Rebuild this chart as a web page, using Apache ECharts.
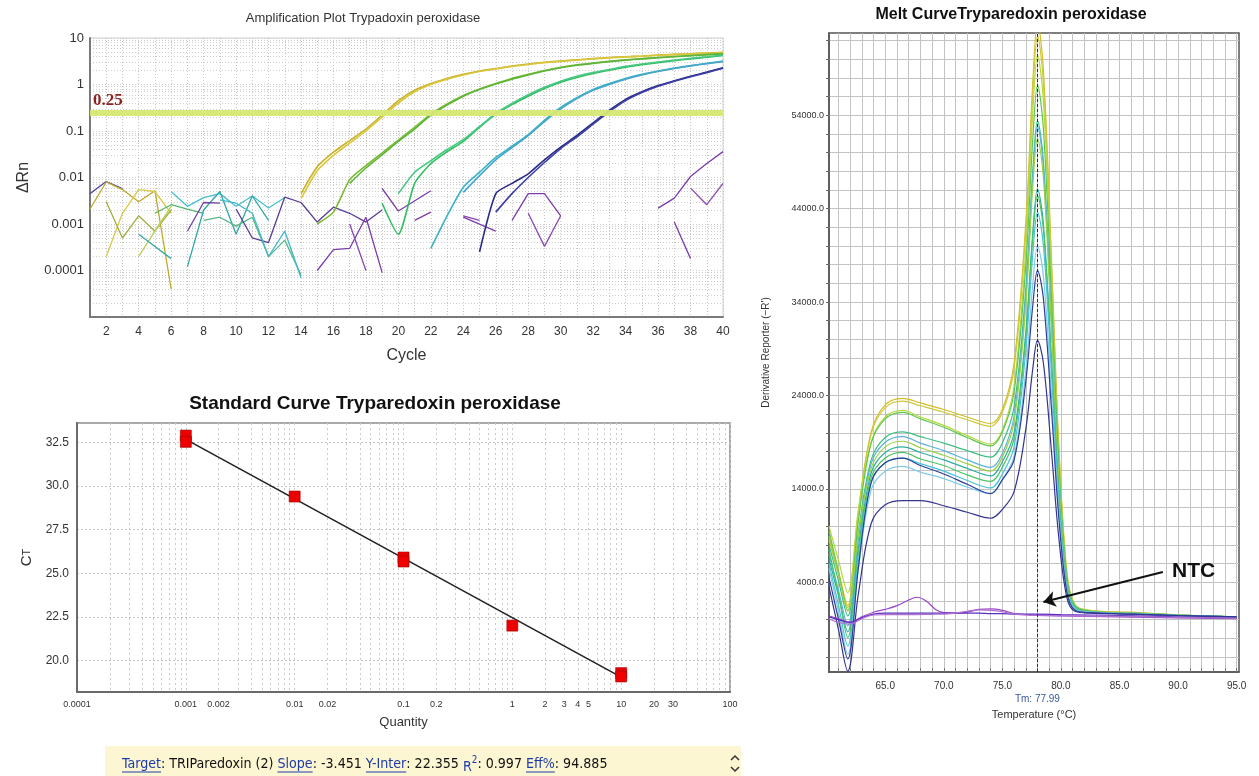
<!DOCTYPE html>
<html>
<head>
<meta charset="utf-8">
<script src="https://cdn.jsdelivr.net/npm/echarts@6/dist/echarts.min.js"></script>
<style>
html, body { margin: 0; padding: 0; background: #fff; }
#chart { width: 1259px; height: 776px; }
</style>
</head>
<body>
<div id="chart"></div>
<script>
var chart = echarts.init(document.getElementById("chart"));

// ---------- amplification plot ----------
var ampYLabels = [0.0001, 0.001, 0.01, 0.1, 1, 10];
var threshold = 0.25;

// each curve runs from its start cycle to cycle 40
var ampStart = [14, 14, 15, 17, 19, 20, 22, 24, 25, 26];
var ampYellowA = [0.0045, 0.017, 0.035, 0.062, 0.11, 0.22, 0.45, 0.75, 1.05, 1.35, 1.65, 1.95, 2.2, 2.5, 2.75, 3.0, 3.2, 3.4, 3.6, 3.8, 3.95, 4.1, 4.3, 4.45, 4.6, 4.75, 4.9];
var ampYellowB = [0.0035, 0.014, 0.03, 0.055, 0.1, 0.2, 0.4, 0.7, 1.0, 1.3, 1.6, 1.9, 2.15, 2.45, 2.7, 2.95, 3.15, 3.35, 3.55, 3.75, 3.9, 4.05, 4.25, 4.4, 4.55, 4.7, 4.85];
var ampLimeA = [0.001, 0.0018, 0.009, 0.018, 0.034, 0.064, 0.12, 0.23, 0.38, 0.58, 0.8, 1.05, 1.35, 1.65, 2.0, 2.35, 2.65, 2.9, 3.15, 3.4, 3.6, 3.8, 4.0, 4.2, 4.4, 4.6];
var ampLimeB = [0.0075, 0.016, 0.031, 0.06, 0.11, 0.22, 0.36, 0.56, 0.78, 1.02, 1.3, 1.6, 1.95, 2.3, 2.6, 2.85, 3.1, 3.35, 3.55, 3.75, 3.95, 4.15, 4.35, 4.55];
var ampGreenA = [0.0028, 0.0006, 0.0075, 0.02, 0.036, 0.06, 0.12, 0.23, 0.37, 0.56, 0.82, 1.12, 1.42, 1.72, 2.02, 2.35, 2.65, 2.95, 3.25, 3.55, 3.85, 4.2];
var ampGreenB = [0.0045, 0.013, 0.023, 0.04, 0.065, 0.125, 0.24, 0.39, 0.6, 0.87, 1.18, 1.5, 1.8, 2.1, 2.45, 2.75, 3.05, 3.35, 3.65, 3.95, 4.3];
var ampCyanA = [0.0003, 0.0015, 0.0062, 0.013, 0.027, 0.047, 0.084, 0.17, 0.32, 0.52, 0.78, 1.05, 1.35, 1.65, 1.95, 2.25, 2.55, 2.85, 3.2];
var ampCyanB = [0.0048, 0.011, 0.024, 0.044, 0.08, 0.16, 0.3, 0.5, 0.75, 1.0, 1.3, 1.6, 1.9, 2.2, 2.5, 2.8, 3.1];
var ampBlueA = [0.00025, 0.0045, 0.0075, 0.012, 0.024, 0.045, 0.08, 0.15, 0.28, 0.48, 0.7, 0.95, 1.2, 1.5, 1.85, 2.3];
var ampBlueB = [0.0018, 0.0045, 0.01, 0.021, 0.042, 0.075, 0.14, 0.26, 0.45, 0.67, 0.92, 1.17, 1.47, 1.8, 2.25];
var ampCurves = [ampYellowA, ampYellowB, ampLimeA, ampLimeB, ampGreenA, ampGreenB, ampCyanA, ampCyanB, ampBlueA, ampBlueB];
var ampColors = ["#c8b226", "#d9c63c", "#7cbb30", "#5fb43c", "#2fbf5e", "#46c882", "#36b4c6", "#48a6cc", "#2a2c86", "#3a3ea6"];

// baseline noise before take-off and the NTC wells, [cycle, dRn]
var ampNoise = [
  [[1, 0.0045], [2, 0.0082], [3, 0.0058]],
  [[1, 0.0021], [2, 0.008], [3, 0.0055], [4, 0.003], [5, 0.0052], [6, 0.00004]],
  [[2, 0.0002], [3, 0.0017], [4, 0.0055], [5, 0.005], [6, 0.0017]],
  [[2, 0.003], [3, 0.0005], [4, 0.0015], [5, 0.0007], [6, 0.002]],
  [[4, 0.0002], [5, 0.0007], [6, 0.0024]],
  [[4, 0.0006], [6, 0.00018]],
  [[5, 0.0017], [6, 0.0026], [7, 0.0021], [8, 0.0017]],
  [[6, 0.005], [7, 0.0024], [8, 0.0037], [9, 0.0045], [10, 0.0024], [11, 0.004], [12, 0.0022], [13, 0.0037]],
  [[7, 0.00012], [8, 0.002], [9, 0.005], [10, 0.0006], [11, 0.004], [12, 0.0012]],
  [[7, 0.0007], [8, 0.0029], [9, 0.0028]],
  [[8, 0.0012], [9, 0.0014], [10, 0.0009], [11, 0.0014], [12, 0.0002], [13, 0.00045], [14, 0.00008]],
  [[10, 0.0021], [11, 0.0005], [12, 0.0004], [13, 0.0038], [14, 0.0029], [15, 0.0011], [16, 0.0023], [17, 0.0017], [18, 0.0011], [19, 0.002]],
  [[9, 0.0033], [10, 0.0028], [11, 0.0017], [12, 0.0002], [13, 0.0007], [14, 0.00007]],
  [[15, 0.0001], [16, 0.00028], [17, 0.0003], [18, 0.0014], [19, 0.00009]],
  [[17, 0.001], [18, 0.0001]],
  [[19, 0.0058], [20, 0.0019], [22, 0.0052]],
  [[21, 0.0012], [22, 0.0018]],
  [[24, 0.0015], [25, 0.0012]],
  [[24, 0.0014], [26, 0.0007]],
  [[27, 0.0012], [28, 0.0045], [29, 0.0045], [30, 0.0015]],
  [[28, 0.0017], [29, 0.00033], [30, 0.0015]],
  [[36, 0.0022], [37, 0.0036], [38, 0.0105], [39, 0.02], [40, 0.036]],
  [[38, 0.0059], [39, 0.0026], [40, 0.0075]],
  [[37, 0.0011], [38, 0.00018]]
];
var ampNoiseColors = ["#5a4aa0", "#c0a828", "#d8c84a", "#a0b040", "#b8cc50", "#3aa8a0", "#50b868", "#48c0d0", "#30a8a8", "#7040a0", "#58b888", "#5a3c96", "#40b8cc",
  "#7a3ea8", "#8a48b0", "#7a3ea8", "#7a3ea8", "#8a48b0", "#7a3ea8", "#7a3ea8", "#8a48b0", "#7a3ea8", "#8a48b0", "#7a3ea8"];

// ---------- standard curve ----------
var stdXLabels = [0.0001, 0.001, 0.002, 0.01, 0.02, 0.1, 0.2, 1, 2, 3, 4, 5, 10, 20, 30, 100];
var stdYLabels = [20, 22.5, 25, 27.5, 30, 32.5];
var stdQuantity = [0.001, 0.001, 0.01, 0.1, 0.1, 1, 10, 10];
var stdCt = [32.88, 32.52, 29.39, 25.9, 25.67, 22.0, 19.28, 19.09];
var stdFitQ = [0.001, 10];
var stdFitCt = [32.66, 19.05];

// ---------- melt curve ----------
var meltXLabels = [65, 70, 75, 80, 85, 90, 95];
var meltYLabels = [4000, 14000, 24000, 34000, 44000, 54000];
var meltT = [60.2, 61, 61.8, 62.7, 63.8, 65, 66.5, 68, 70, 72, 74, 75, 76, 77, 77.6, 78, 78.5, 79.2, 79.8, 80.5, 81.2, 82.5, 86, 90, 95];
var melt1 = [9000, 5200, 1500, 11500, 20100, 23000, 23700, 23200, 22500, 21700, 21000, 22500, 27500, 42500, 57600, 64000, 58900, 38400, 19200, 5100, 1600, 1000, 800, 500, 300];
var melt2 = [8500, 4900, 1300, 11100, 19900, 22700, 23400, 22900, 22200, 21400, 20700, 22200, 26900, 41600, 56300, 62500, 57500, 37500, 18800, 5000, 1500, 950, 750, 500, 300];
var melt3 = [10000, 6400, 2900, 11700, 19000, 21700, 22400, 21700, 20800, 19700, 18800, 20300, 25000, 39600, 54400, 60400, 55600, 36200, 18100, 4800, 1500, 950, 750, 500, 300];
var melt4 = [9500, 5200, 950, 10500, 18900, 21500, 22200, 21500, 20600, 19500, 18600, 20100, 24400, 37900, 51500, 57200, 52600, 34300, 17200, 4600, 1500, 900, 700, 500, 300];
var melt5 = [8000, 4200, 400, 9300, 17100, 19500, 20100, 19600, 18900, 18100, 17400, 18900, 22800, 35400, 48100, 53400, 49100, 32000, 16000, 4300, 1400, 900, 700, 500, 300];
var melt6 = [7000, 3200, -650, 8500, 16700, 19000, 19600, 18900, 18100, 17100, 16300, 17800, 21800, 34600, 47500, 52800, 48600, 31700, 15800, 4200, 1300, 850, 700, 500, 300];
var melt7 = [8800, 4900, 950, 9100, 16200, 18500, 19100, 18400, 17600, 16700, 15900, 17400, 21200, 33700, 46400, 51500, 47400, 30900, 15500, 4100, 1300, 850, 700, 500, 300];
var melt8 = [6500, 2600, -1300, 7600, 15700, 17900, 18500, 17900, 17100, 16200, 15400, 16900, 20000, 30800, 41500, 46100, 42400, 27700, 13800, 3700, 1200, 800, 650, 450, 300];
var melt9 = [7500, 2800, -1900, 7000, 15200, 17300, 17900, 17200, 16500, 15500, 14800, 16300, 19400, 30100, 40900, 45400, 41800, 27200, 13600, 3600, 1200, 800, 650, 450, 300];
var melt10 = [6000, 1600, -2800, 6200, 14700, 16800, 17300, 16700, 15900, 14900, 14100, 15600, 18500, 28900, 39200, 43600, 40100, 26200, 13100, 3500, 1200, 800, 650, 450, 300];
var melt11 = [5500, 900, -3700, 5300, 13900, 15900, 16400, 15800, 15100, 14200, 13500, 15000, 17500, 26700, 36000, 40000, 36800, 24000, 12000, 3200, 1100, 800, 650, 450, 300];
var melt12 = [4500, 100, -4200, 5500, 14700, 16800, 17300, 16500, 15600, 14500, 13500, 15000, 17100, 25500, 33700, 37400, 34400, 22400, 11200, 3000, 1000, 750, 600, 450, 300];
var melt13 = [3500, -1000, -5500, 2700, 10300, 12300, 12750, 12750, 12200, 11500, 10860, 11800, 13700, 20400, 26900, 29900, 27500, 17900, 9000, 2400, 900, 700, 600, 450, 300];
var meltCurves = [melt1, melt2, melt3, melt4, melt5, melt6, melt7, melt8, melt9, melt10, melt11, melt12, melt13];
var meltColors = ["#d4be26", "#cfc93a", "#b6d83c", "#5cc850", "#3ebf84", "#5ab2dc", "#9ccf44", "#2faea0", "#4cc464", "#46c4d6", "#82cbe6", "#2c3f9a", "#343490"];

var ntcT = [60.2, 61, 62, 63, 64, 65, 66, 67, 67.7, 68.5, 69.3, 70, 71, 72, 73, 74, 75, 76, 78, 80, 85, 90, 95];
var ntc1 = [420, 100, -250, 300, 800, 1100, 1500, 2100, 2400, 2000, 1100, 750, 700, 800, 1100, 1150, 1000, 650, 500, 400, 300, 200, 100];
var ntc2 = [300, 0, -300, 200, 600, 700, 700, 700, 700, 700, 700, 700, 700, 700, 700, 650, 650, 600, 600, 550, 450, 300, 150];
var ntc3 = [100, -300, -470, 100, 500, 550, 550, 550, 550, 560, 580, 600, 700, 900, 1050, 1000, 850, 600, 450, 420, 350, 250, 150];
var ntcCurves = [ntc1, ntc2, ntc3];
var ntcColors = ["#9a46c8", "#5a30c0", "#b070d0"];
var tm = 77.99;
var ntcArrowFrom = [88.7, 5100];
var ntcArrowTo = [78.5, 1900];

// ---------- grid line positions ----------
var ampYGrid = [];
for (var d = -5; d <= 0; d++) for (var k = 1; k <= 9; k++) ampYGrid.push(+(k * Math.pow(10, d)).toPrecision(2));
ampYGrid.push(10);
var stdXGrid = [];
for (var d2 = -4; d2 <= 1; d2++) for (var k2 = 1; k2 <= 9; k2++) stdXGrid.push(+(k2 * Math.pow(10, d2)).toPrecision(2));
stdXGrid.push(100);
var meltXGrid = [];
for (var t = 61; t <= 95; t++) meltXGrid.push(t);
var meltYGrid = [];
for (var r = -4000; r <= 62000; r += 2000) meltYGrid.push(r);

function fromCycle(start, vals) {
  return vals.map(function (v, i) { return [start + i, v]; });
}
function zip(xs, ys) {
  return xs.map(function (x, i) { return [x, ys[i]]; });
}

var FONT = '"Liberation Sans", Arial, sans-serif';
var series = [];

ampCurves.forEach(function (vals, i) {
  var s = {
    type: "line", xAxisIndex: 0, yAxisIndex: 0,
    data: fromCycle(ampStart[i], vals),
    symbol: "none", smooth: 0.2,
    lineStyle: { color: ampColors[i], width: 1.6 },
    z: 3
  };
  if (i === 0) {
    s.markLine = {
      silent: true, symbol: "none",
      lineStyle: { color: "#d6e873", width: 6, type: "solid", opacity: 0.95 },
      label: {
        show: true, position: "insideStartTop", distance: 3, formatter: "0.25",
        color: "#861515", fontFamily: '"Liberation Serif", serif', fontWeight: "bold", fontSize: 17
      },
      data: [{ yAxis: threshold }]
    };
  }
  series.push(s);
});
ampNoise.forEach(function (pts, i) {
  series.push({
    type: "line", xAxisIndex: 0, yAxisIndex: 0, data: pts, symbol: "none",
    lineStyle: { color: ampNoiseColors[i], width: 1.3 }, z: 2
  });
});

series.push({
  type: "line", xAxisIndex: 1, yAxisIndex: 1, data: zip(stdFitQ, stdFitCt),
  symbol: "none", lineStyle: { color: "#222", width: 1.6 }, z: 2
});
series.push({
  type: "scatter", xAxisIndex: 1, yAxisIndex: 1, data: zip(stdQuantity, stdCt),
  symbol: "rect", symbolSize: 11,
  itemStyle: { color: "#ee0000", borderColor: "#9a0000", borderWidth: 0.6, opacity: 1 }, z: 3
});

meltCurves.forEach(function (vals, i) {
  var s = {
    type: "line", xAxisIndex: 2, yAxisIndex: 2, data: zip(meltT, vals),
    symbol: "none", smooth: 0.35,
    lineStyle: { color: meltColors[i], width: 1.2 }
  };
  if (i === 0) {
    s.markLine = {
      silent: true, symbol: "none",
      lineStyle: { color: "#1c2a78", width: 1, type: [3, 2] },
      label: { show: true, position: "start", distance: 22, formatter: "Tm: 77.99", color: "#3a5a9c", fontSize: 10 },
      data: [{ xAxis: tm }]
    };
  }
  series.push(s);
});
ntcCurves.forEach(function (vals, i) {
  var s = {
    type: "line", xAxisIndex: 2, yAxisIndex: 2, data: zip(ntcT, vals),
    symbol: "none", smooth: 0.4,
    lineStyle: { color: ntcColors[i], width: 1.2 }
  };
  if (i === 0) {
    s.markLine = {
      silent: true, symbol: ["none", "arrow"], symbolSize: 12,
      lineStyle: { color: "#111", width: 2, type: "solid" },
      label: { show: false },
      data: [[{ coord: ntcArrowFrom }, { coord: ntcArrowTo }]]
    };
  }
  series.push(s);
});

// ---------- info bar under the standard curve ----------
var barFont = '"Liberation Sans Narrow", "DejaVu Sans Condensed", "Liberation Sans", sans-serif';
var pieces = [
  { t: "Target", link: true }, { t: ": TRIParedoxin (2) " },
  { t: "Slope", link: true }, { t: ": -3.451 " },
  { t: "Y-Inter", link: true }, { t: ": 22.355 " },
  { t: "R", blue: true, dy: 3 }, { t: "2", blue: true, dy: -4, small: true },
  { t: ": 0.997 " },
  { t: "Eff%", link: true }, { t: ": 94.885" }
];
var ctx = document.createElement("canvas").getContext("2d");
function fontOf(size) { return size + "px " + barFont; }
function textW(txt, size) { ctx.font = fontOf(size); return ctx.measureText(txt).width; }
var baseSize = 14, total = 0;
pieces.forEach(function (p) { total += textW(p.t, p.small ? baseSize * 0.7 : baseSize); });
var barSize = baseSize * 486 / total;
var barX = 122, barY = 764;
var graphics = [
  { type: "rect", shape: { x: 105, y: 746, width: 636, height: 30 }, style: { fill: "#fcf6d3" }, z: 0 }
];
pieces.forEach(function (p) {
  var size = p.small ? barSize * 0.7 : barSize;
  var w = textW(p.t, size);
  var col = p.link || p.blue ? "#1d3aa6" : "#111";
  graphics.push({
    type: "text", x: barX, y: barY + (p.dy || 0),
    style: { text: p.t, font: fontOf(size), fill: col, align: "left", verticalAlign: "middle" }, z: 2
  });
  if (p.link) {
    graphics.push({
      type: "line", shape: { x1: barX, y1: barY + 8, x2: barX + w, y2: barY + 8 },
      style: { stroke: col, lineWidth: 1 }, z: 2
    });
  }
  barX += w;
});
graphics.push(
  { type: "polyline", shape: { points: [[731, 760], [735, 756], [739, 760]] }, style: { stroke: "#333", lineWidth: 1.5, fill: null }, z: 2 },
  { type: "polyline", shape: { points: [[731, 767], [735, 771], [739, 767]] }, style: { stroke: "#333", lineWidth: 1.5, fill: null }, z: 2 },
  { type: "text", x: 1172, y: 571, style: { text: "NTC", font: 'bold 21px "Liberation Sans", Arial, sans-serif', fill: "#111", verticalAlign: "middle" }, z: 5 }
);

var dotted = function (c) { return { show: true, lineStyle: { color: c, width: 1, type: [1, 2] } }; };

var option = {
  animation: false,
  backgroundColor: "#fff",
  textStyle: { fontFamily: FONT },
  title: [
    { text: "Amplification Plot Trypadoxin peroxidase", left: 363, top: 12, padding: 0, textAlign: "center",
      textStyle: { fontSize: 13, fontWeight: "normal", color: "#333" } },
    { text: "Standard Curve Tryparedoxin peroxidase", left: 375, top: 394, padding: 0, textAlign: "center",
      textStyle: { fontSize: 19, fontWeight: "bold", color: "#111" } },
    { text: "Melt CurveTryparedoxin peroxidase", left: 1011, top: 7, padding: 0, textAlign: "center",
      textStyle: { fontSize: 16, fontWeight: "bold", color: "#111" } }
  ],
  grid: [
    { left: 90, top: 38, width: 633, height: 279, show: true, borderColor: "#cfcfcf", borderWidth: 1 },
    { left: 77, top: 423, width: 653, height: 269, show: true, borderColor: "#a8a8a8", borderWidth: 2 },
    { left: 829, top: 33, width: 410, height: 639, show: true, borderColor: "#555", borderWidth: 1.5 }
  ],
  xAxis: [
    { gridIndex: 0, type: "value", min: 1, max: 40, interval: 1,
      axisLine: { show: true, onZero: false, lineStyle: { color: "#7a7a7a", width: 2 } }, axisTick: { show: false },
      axisLabel: { color: "#333", fontSize: 12, margin: 9, formatter: function (v) { return v % 2 === 0 ? String(v) : ""; } },
      splitLine: dotted("#c6c6c6"),
      name: "Cycle", nameLocation: "middle", nameGap: 31, nameTextStyle: { fontSize: 16, color: "#333" } },
    { gridIndex: 1, type: "log", logBase: 10, min: 0.0001, max: 100,
      axisLine: { show: true, onZero: false, lineStyle: { color: "#6a6a6a", width: 2 } },
      axisTick: { show: false, customValues: stdXGrid },
      axisLabel: { customValues: stdXLabels, fontSize: 9, color: "#333", margin: 8, formatter: function (v) { return String(v); } },
      splitLine: { show: true, lineStyle: { color: "#cacaca", width: 1, type: [2, 3] } },
      name: "Quantity", nameLocation: "middle", nameGap: 24, nameTextStyle: { fontSize: 13, color: "#333" } },
    { gridIndex: 2, type: "value", min: 60.2, max: 95.2,
      axisLine: { show: true, onZero: false, lineStyle: { color: "#555", width: 1.5 } },
      axisTick: { show: true, inside: true, length: 4, customValues: meltXGrid, lineStyle: { color: "#777" } },
      axisLabel: { customValues: meltXLabels, fontSize: 10, color: "#333", margin: 9, formatter: function (v) { return v.toFixed(1); } },
      splitLine: { show: true, lineStyle: { color: "#c3c3c3", width: 1 } },
      name: "Temperature (°C)", nameLocation: "middle", nameGap: 37, nameTextStyle: { fontSize: 11, color: "#333" } }
  ],
  yAxis: [
    { gridIndex: 0, type: "log", logBase: 10, min: 0.00001, max: 10,
      axisLine: { show: true, onZero: false, lineStyle: { color: "#7a7a7a", width: 2 } },
      axisTick: { show: false, customValues: ampYGrid },
      axisLabel: { customValues: ampYLabels, fontSize: 13, color: "#333", margin: 6, formatter: function (v) { return String(v); } },
      splitLine: dotted("#cdcdcd"),
      name: "ΔRn", nameLocation: "middle", nameGap: 58, nameTextStyle: { fontSize: 16, color: "#333" } },
    { gridIndex: 1, type: "value", min: 18.2, max: 33.6,
      axisLine: { show: true, onZero: false, lineStyle: { color: "#6a6a6a", width: 2 } },
      axisTick: { show: false, customValues: stdYLabels },
      axisLabel: { customValues: stdYLabels, fontSize: 12, color: "#333", margin: 8, formatter: function (v) { return v.toFixed(1); } },
      splitLine: { show: true, lineStyle: { color: "#c4c4c4", width: 1, type: [2, 2] } },
      name: "{a|C}{b|T}", nameLocation: "middle", nameGap: 32,
      nameTextStyle: { rich: { a: { fontSize: 15, color: "#333" }, b: { fontSize: 11, color: "#333" } } } },
    { gridIndex: 2, type: "value", min: -5600, max: 62800,
      axisLine: { show: true, onZero: false, lineStyle: { color: "#555", width: 1.5 } },
      axisTick: { show: true, length: 3, customValues: meltYGrid, lineStyle: { color: "#666" } },
      axisLabel: { customValues: meltYLabels, fontSize: 9, color: "#333", margin: 5, formatter: function (v) { return v.toFixed(1); } },
      splitLine: { show: true, lineStyle: { color: "#c3c3c3", width: 1 } },
      name: "Derivative Reporter (\u2212R')", nameLocation: "middle", nameGap: 58, nameTextStyle: { fontSize: 10, color: "#333" } }
  ],
  graphic: graphics,
  series: series
};

chart.setOption(option);
</script>
</body>
</html>
